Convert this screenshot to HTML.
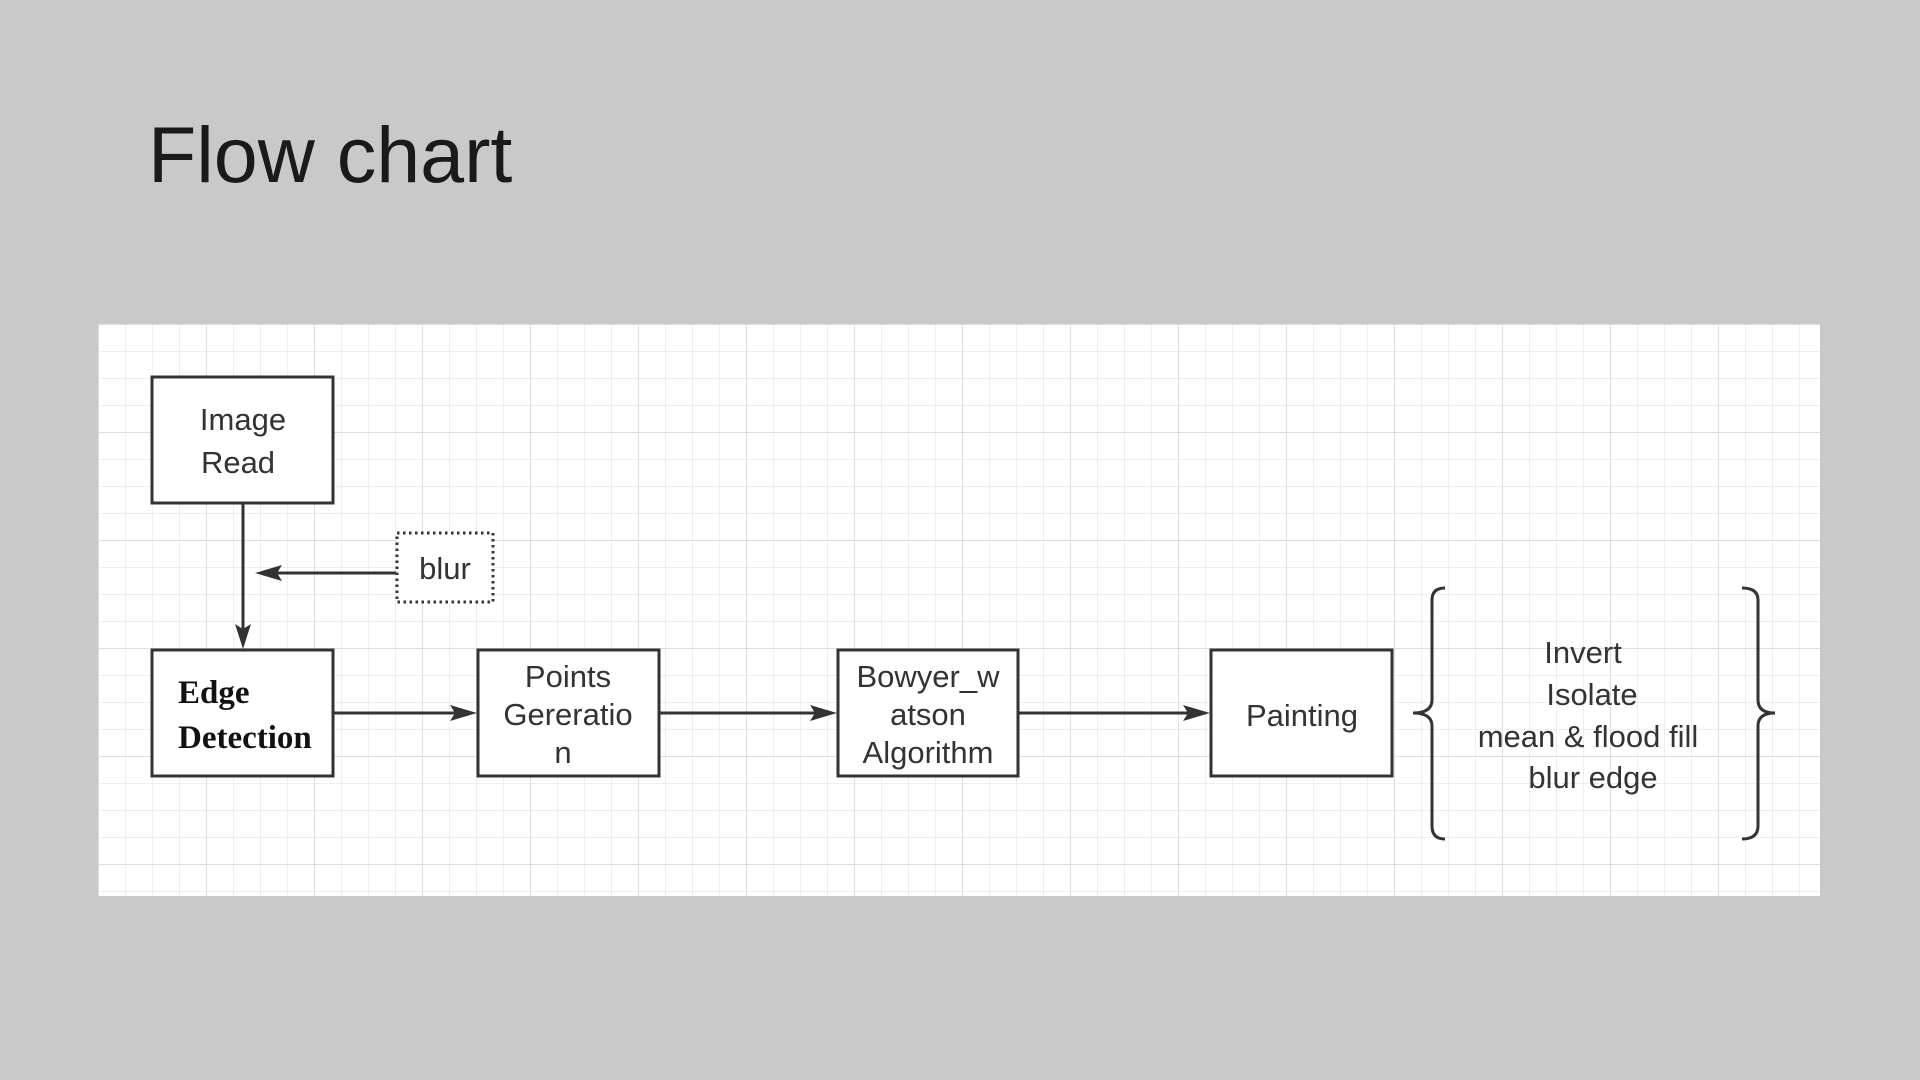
<!DOCTYPE html>
<html><head><meta charset="utf-8"><style>
html,body{margin:0;padding:0;width:1920px;height:1080px;background:#c9c9c9;overflow:hidden}
</style></head><body>
<svg width="1920" height="1080" xmlns="http://www.w3.org/2000/svg" style="position:absolute;left:0;top:0">
<defs>
<pattern id="g" x="98" y="324" width="27" height="27" patternUnits="userSpaceOnUse">
<path d="M0 0H27M0 0V27" stroke="#e8e8e8" stroke-width="1.5" fill="none"/>
</pattern>
<pattern id="G" x="98" y="324" width="108" height="108" patternUnits="userSpaceOnUse">
<path d="M0 0H108M0 0V108" stroke="#dedede" stroke-width="2" fill="none"/>
</pattern>
</defs>
<text x="148" y="182" font-family="Liberation Sans, sans-serif" font-size="79" fill="#1a1a1a">Flow chart</text>
<rect x="98" y="324" width="1722" height="572" fill="#fff"/>
<rect x="98" y="324" width="1722" height="572" fill="url(#g)"/>
<rect x="98" y="324" width="1722" height="572" fill="url(#G)"/>
<g fill="#fff" stroke="#333" stroke-width="3">
<rect x="152" y="377" width="181" height="126"/>
<rect x="152" y="650" width="181" height="126"/>
<rect x="478" y="650" width="181" height="126"/>
<rect x="838" y="650" width="180" height="126"/>
<rect x="1211" y="650" width="181" height="126"/>
</g>
<rect x="397" y="533" width="96" height="69" fill="#fff" stroke="#333" stroke-width="3" stroke-dasharray="2.5 3.5"/>
<g stroke="#333" stroke-width="3" fill="none">
<line x1="243" y1="503" x2="243" y2="635"/>
<line x1="396" y1="573" x2="270" y2="573"/>
<line x1="334" y1="713" x2="465" y2="713"/>
<line x1="660" y1="713" x2="825" y2="713"/>
<line x1="1019" y1="713" x2="1198" y2="713"/>
<path d="M1445 588Q1432 588 1432 600V700Q1432 713 1413 713Q1432 713 1432 726V826Q1432 839 1445 839"/>
<path d="M1742 588Q1758 588 1758 600V700Q1758 713 1775 713Q1758 713 1758 726V826Q1758 839 1742 839"/>
</g>
<g fill="#333">
<path d="M243 649L235 624L243 629L251 624Z"/>
<path d="M255 573L282 565L277 573L282 581Z"/>
<path d="M477 713L450 705L455 713L450 721Z"/>
<path d="M837 713L810 705L815 713L810 721Z"/>
<path d="M1210 713L1183 705L1188 713L1183 721Z"/>
</g>
<g font-family="Liberation Sans, sans-serif" font-size="31" fill="#333" text-anchor="middle">
<text x="243" y="430">Image</text>
<text x="238" y="473">Read</text>
<text x="445" y="579">blur</text>
<text x="568" y="687">Points</text>
<text x="568" y="725">Gereratio</text>
<text x="563" y="763">n</text>
<text x="928" y="687">Bowyer_w</text>
<text x="928" y="725">atson</text>
<text x="928" y="763">Algorithm</text>
<text x="1302" y="726">Painting</text>
<text x="1583" y="663">Invert</text>
<text x="1592" y="705">Isolate</text>
<text x="1588" y="747">mean &amp; flood fill</text>
<text x="1593" y="788">blur edge</text>
</g>
<g font-family="Liberation Serif, serif" font-size="33" fill="#111" font-weight="bold">
<text x="178" y="703">Edge</text>
<text x="178" y="748">Detection</text>
</g>
</svg>
</body></html>
